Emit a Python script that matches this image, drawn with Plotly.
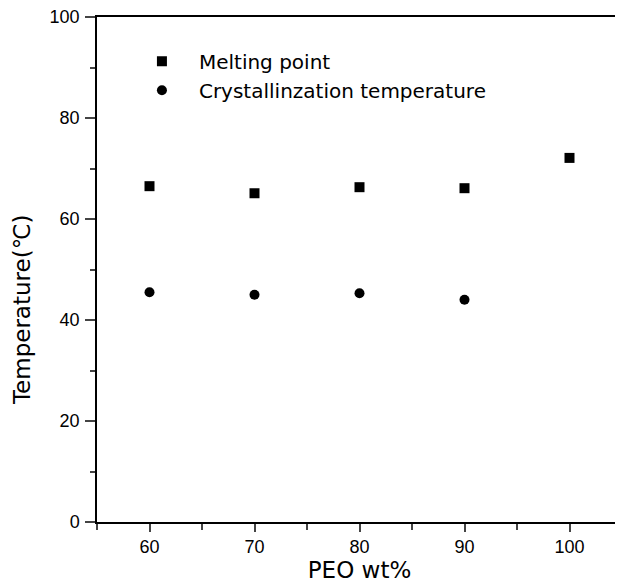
import plotly.graph_objects as go

peo_melt = [60, 70, 80, 90, 100]
melting_point = [66.5, 65.1, 66.3, 66.1, 72.1]
peo_cryst = [60, 70, 80, 90]
cryst_temp = [45.5, 45.0, 45.3, 44.0]
x_ticks = [60, 70, 80, 90, 100]
y_ticks = [0, 20, 40, 60, 80, 100]

TICKFONT = "Liberation Sans, Arial, sans-serif"
TEXTFONT = "DejaVu Sans, sans-serif"

fig = go.Figure()
fig.add_trace(go.Scatter(x=peo_melt, y=melting_point, mode="markers",
                         name="Melting point",
                         marker=dict(symbol="square", size=10, color="black")))
fig.add_trace(go.Scatter(x=peo_cryst, y=cryst_temp, mode="markers",
                         name="Crystallinzation temperature",
                         marker=dict(symbol="circle", size=10, color="black")))

fig.update_layout(
    width=615, height=577,
    margin=dict(l=89, r=1, t=9, b=63),
    paper_bgcolor="white", plot_bgcolor="white",
    font=dict(family=TICKFONT, color="black", size=18),
    showlegend=True,
    legend=dict(x=0.0532, y=0.951, xanchor="left", yanchor="top",
                font=dict(size=20, family=TEXTFONT), bgcolor="rgba(0,0,0,0)",
                itemwidth=64),
    xaxis=dict(range=[55, 105], tickvals=x_ticks, ticks="outside", ticklen=8,
               tickwidth=1.5, showline=True, linewidth=1.5, linecolor="black",
               mirror=True, showgrid=False, zeroline=False, automargin=False,
               ticklabeloverflow="allow",
               minor=dict(dtick=5, tick0=55, ticks="outside", ticklen=6, tickwidth=1.5),
               title=dict(text="PEO wt%", font=dict(size=23, family=TEXTFONT), standoff=6),
               tickfont=dict(size=18)),
    yaxis=dict(range=[0, 100], tickvals=y_ticks, ticks="outside", ticklen=10,
               tickwidth=1.5, showline=True, linewidth=1.5, linecolor="black",
               mirror=True, showgrid=False, zeroline=False, ticklabelstandoff=2,
               automargin=False, ticklabeloverflow="allow",
               minor=dict(dtick=10, tick0=0, ticks="outside", ticklen=5, tickwidth=1.5),
               tickfont=dict(size=18)),
    annotations=[dict(text="Temperature(℃)", textangle=-90, xref="paper", yref="paper",
                      x=-0.1426, y=0.42, xanchor="center", yanchor="middle",
                      showarrow=False, font=dict(size=23, family=TEXTFONT))],
)

fig.write_html("out.html")
